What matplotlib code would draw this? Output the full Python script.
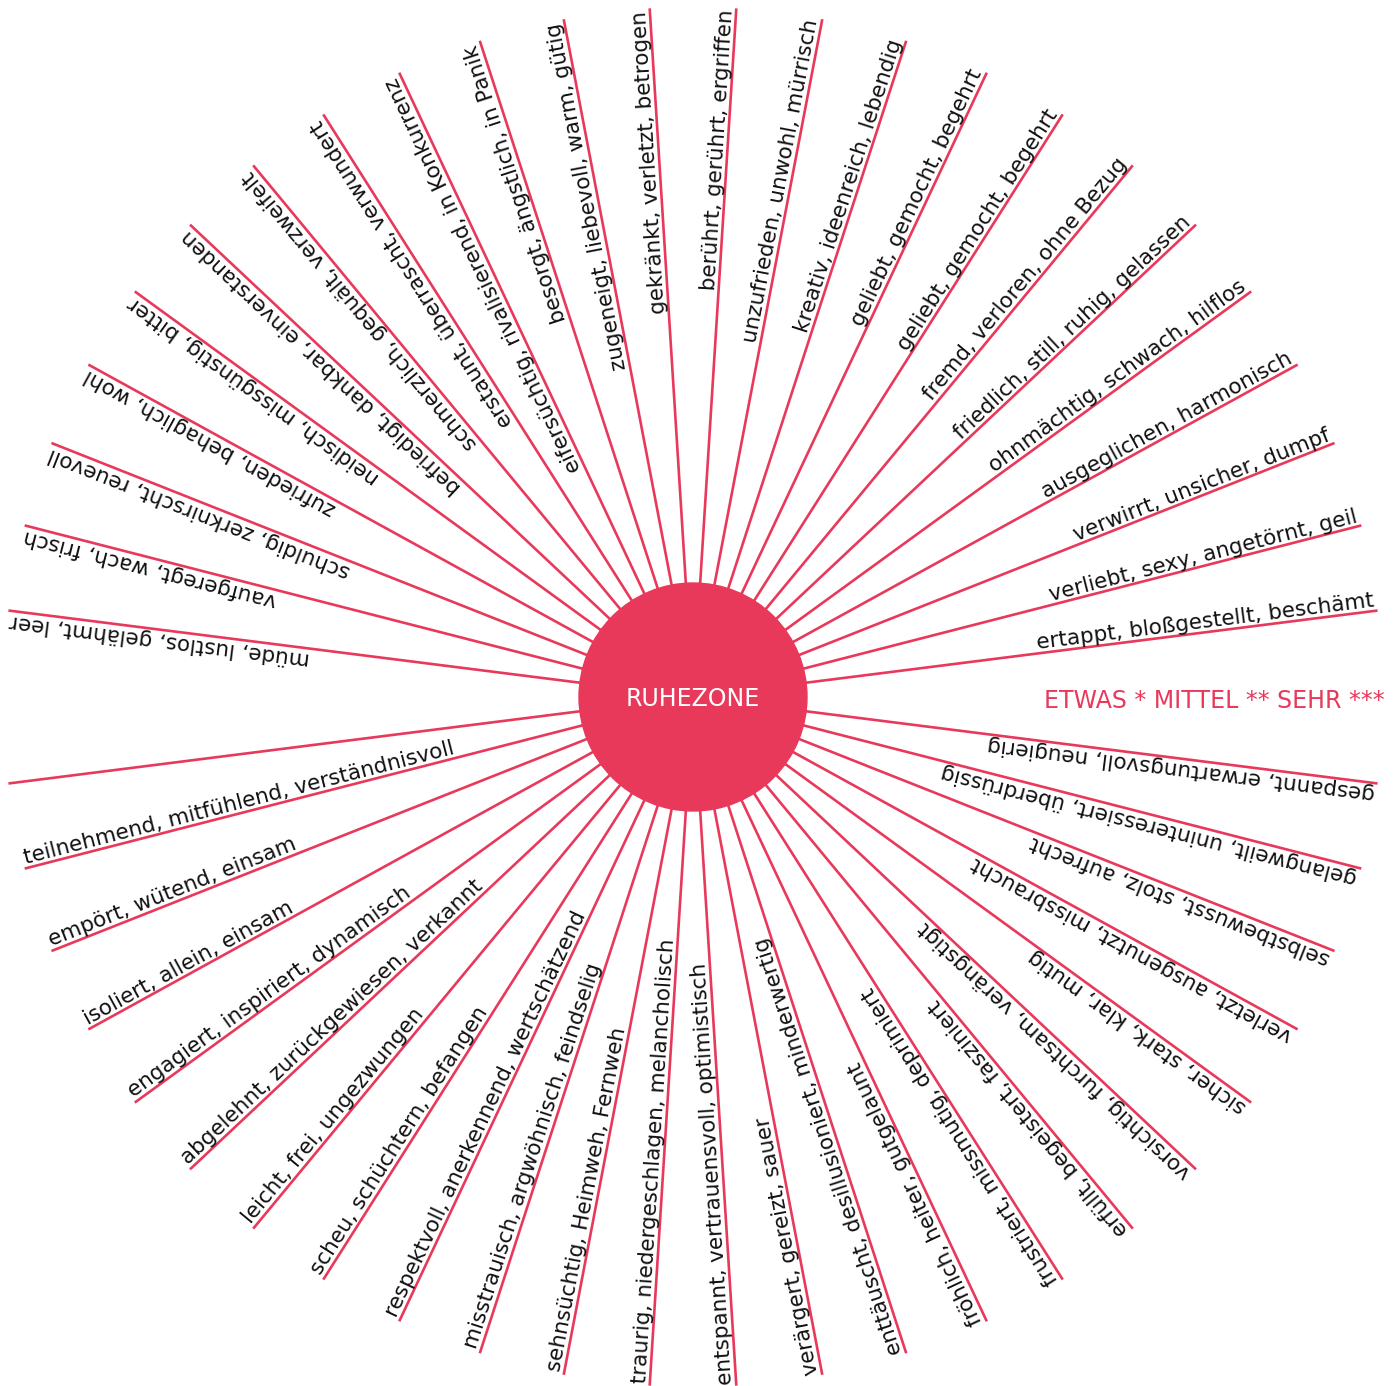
import matplotlib.pyplot as plt
import numpy as np

# Gefühle oben (gegen den Uhrzeigersinn, ab rechts)
labels_top = [
    "ertappt, bloßgestellt, beschämt",
    "verliebt, sexy, angetörnt, geil",
    "verwirrt, unsicher, dumpf",
    "ausgeglichen, harmonisch",
    "ohnmächtig, schwach, hilflos",
    "friedlich, still, ruhig, gelassen",
    "fremd, verloren, ohne Bezug",
    "geliebt, gemocht, begehrt",
    "geliebt, gemocht, begehrt",
    "kreativ, ideenreich, lebendig",
    "unzufrieden, unwohl, mürrisch",
    "berührt, gerührt, ergriffen",
    "gekränkt, verletzt, betrogen",
    "zugeneigt, liebevoll, warm, gütig",
    "besorgt, ängstlich, in Panik",
    "eifersüchtig, rivalisierend, in Konkurrenz",
    "erstaunt, überrascht, verwundert",
    "schmerzlich, gequält, verzweifelt",
    "befriedigt, dankbar, einverstanden",
    "neidisch, missgünstig, bitter",
    "zufrieden, behaglich, wohl",
    "schuldig, zerknirscht, reuevoll",
    "vaufgeregt, wach, frisch",
    "müde, lustlos, gelähmt, leer",
]

# Gefühle unten (ab links, gegen den Uhrzeigersinn); erster Strahl ohne Text
labels_bottom = [
    "",
    "teilnehmend, mitfühlend, verständnisvoll",
    "empört, wütend, einsam",
    "isoliert, allein, einsam",
    "engagiert, inspiriert, dynamisch",
    "abgelehnt, zurückgewiesen, verkannt",
    "leicht, frei, ungezwungen",
    "scheu, schüchtern, befangen",
    "respektvoll, anerkennend, wertschätzend",
    "misstrauisch, argwöhnisch, feindselig",
    "sehnsüchtig, Heimweh, Fernweh",
    "traurig, niedergeschlagen, melancholisch",
    "entspannt, vertrauensvoll, optimistisch",
    "verärgert, gereizt, sauer",
    "enttäuscht, desillusioniert, minderwertig",
    "fröhlich, heiter, gutgelaunt",
    "frustriert, missmutig, deprimiert",
    "erfüllt, begeistert, fasziniert",
    "vorsichtig, furchtsam, verängstigt",
    "sicher, stark, klar, mutig",
    "verletzt, ausgenutzt, missbraucht",
    "selbstbewusst, stolz, aufrecht",
    "gelangweilt, uninteressiert, überdrüssig",
    "gespannt, erwartungsvoll, neugierig",
]

center_label = "RUHEZONE"
scale_label = "ETWAS * MITTEL ** SEHR ***"

RED = "#e8395b"
W, H = 1400, 1386
cx, cy = 693, 697
R_line = 690
R_circle = 114
step = 360 / 50
offset = 4     # abstand text zur linie
inset = 2
fs = 15.5

fig = plt.figure(figsize=(W / 100, H / 100), dpi=100)
ax = fig.add_axes([0, 0, 1, 1])
ax.set_xlim(0, W)
ax.set_ylim(H, 0)
ax.axis("off")

top_angles = np.arange(1, 25) * step
bottom_angles = np.arange(26, 50) * step


def endpoint(theta, r):
    t = np.radians(theta)
    return cx + r * np.cos(t), cy - r * np.sin(t)


for th, lab in zip(top_angles, labels_top):
    x1, y1 = endpoint(th, R_line)
    ax.plot([cx, x1], [cy, y1], color=RED, lw=1.9, solid_capstyle="butt", zorder=1)
    t = np.radians(th)
    xe, ye = endpoint(th, R_line - inset)
    xt = xe - offset * np.sin(t)
    yt = ye - offset * np.cos(t)
    ax.text(xt, yt, lab, rotation=th, rotation_mode="anchor",
            ha="right", va="baseline", fontsize=fs, color="#111111")

for th, lab in zip(bottom_angles, labels_bottom):
    x1, y1 = endpoint(th, R_line)
    ax.plot([cx, x1], [cy, y1], color=RED, lw=1.9, solid_capstyle="butt", zorder=1)
    if not lab:
        continue
    t = np.radians(th)
    xe, ye = endpoint(th, R_line - inset)
    xt = xe + offset * np.sin(t)
    yt = ye + offset * np.cos(t)
    ax.text(xt, yt, lab, rotation=th - 180, rotation_mode="anchor",
            ha="left", va="baseline", fontsize=fs, color="#111111")

circle = plt.Circle((cx, cy), R_circle, color=RED, zorder=3)
ax.add_patch(circle)
ax.text(cx, cy + 2, center_label, color="white", fontsize=17,
        ha="center", va="center", zorder=4)

ax.text(1385, 701, scale_label, color=RED, fontsize=17,
        ha="right", va="center")

fig.savefig("out.png", dpi=100, facecolor="white")
